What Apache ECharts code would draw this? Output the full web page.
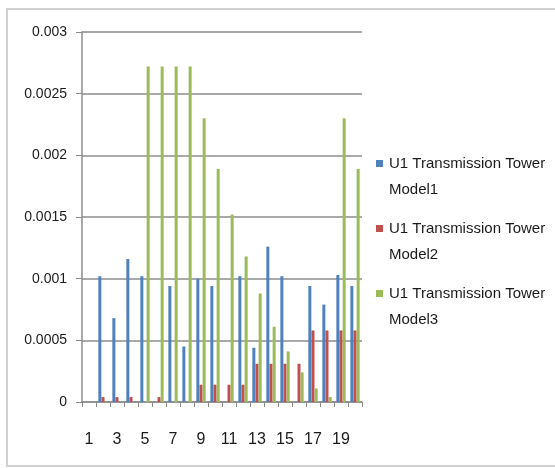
<!DOCTYPE html>
<html>
<head>
<meta charset="utf-8">
<script src="https://cdn.jsdelivr.net/npm/echarts@6/dist/echarts.min.js"></script>
<style>
  html, body { margin: 0; padding: 0; background: #fff; }
  #chart { width: 555px; height: 468px; }
</style>
</head>
<body>
<div id="chart"></div>
<script>
// Tower positions along the line
const categories = ['1','2','3','4','5','6','7','8','9','10','11','12','13','14','15','16','17','18','19','20'];

const seriesNames = [
  'U1 Transmission Tower Model1',
  'U1 Transmission Tower Model2',
  'U1 Transmission Tower Model3'
];

const model1 = [0, 0.00102, 0.00068, 0.00116, 0.00102, 0, 0.00094, 0.00045, 0.00100, 0.00094,
                0, 0.00102, 0.00044, 0.00126, 0.00102, 0, 0.00094, 0.00079, 0.00103, 0.00094];
const model2 = [0, 0.00004, 0.00004, 0.00004, 0, 0.00004, 0, 0, 0.00014, 0.00014,
                0.00014, 0.00014, 0.00031, 0.00031, 0.00031, 0.00031, 0.00058, 0.00058, 0.00058, 0.00058];
const model3 = [0, 0, 0, 0, 0.00272, 0.00272, 0.00272, 0.00272, 0.00230, 0.00189,
                0.00152, 0.00118, 0.00088, 0.00061, 0.00041, 0.00024, 0.00011, 0.00004, 0.00230, 0.00189];

const yTicks = [0, 0.0005, 0.001, 0.0015, 0.002, 0.0025, 0.003];

const colors = ['#4F81BD', '#C0504D', '#9BBB59'];
const textColor = '#1a1a1a';
const font = '"Liberation Sans", Arial, sans-serif';

const chart = echarts.init(document.getElementById('chart'), null, { renderer: 'canvas' });

const values = [model1, model2, model3];

// legend label: coloured square on the first line, second line indented
const rich = { t: { fontSize: 15, lineHeight: 26, color: textColor, fontFamily: font }, sp: { width: 13 } };
colors.forEach((c, i) => {
  rich['m' + i] = { width: 7, height: 7, backgroundColor: c, align: 'left' };
  rich['g' + i] = { width: 6 };
});

chart.setOption({
  backgroundColor: '#ffffff',
  animation: false,
  color: colors,
  graphic: [{
    type: 'rect',
    shape: { x: 7, y: 9, width: 600, height: 457 },
    style: { fill: 'none', stroke: '#d0d0d0', lineWidth: 2 },
    silent: true
  }],
  grid: { left: 82, right: 193, top: 32, bottom: 66, containLabel: false },
  legend: {
    orient: 'vertical',
    left: 371,
    top: 156,
    padding: 0,
    icon: 'none',
    itemWidth: 0,
    itemHeight: 7,
    itemGap: 24,
    data: seriesNames,
    formatter: function (name) {
      const i = seriesNames.indexOf(name);
      const head = 'U1 Transmission Tower';
      const tail = name.slice(head.length + 1);
      return '{m' + i + '|}{g' + i + '|}{t|' + head + '}\n{sp|}{t|' + tail + '}';
    },
    textStyle: { rich: rich }
  },
  xAxis: {
    type: 'category',
    data: categories,
    boundaryGap: true,
    axisLine: { show: true, lineStyle: { color: '#8c8c8c', width: 1.5 } },
    axisTick: { show: true, interval: 0, length: 5, lineStyle: { color: '#8c8c8c' } },
    axisLabel: {
      interval: 1,
      margin: 30,
      color: textColor,
      fontSize: 16,
      fontFamily: font
    },
    splitLine: { show: false }
  },
  yAxis: {
    type: 'value',
    min: yTicks[0],
    max: yTicks[yTicks.length - 1],
    interval: 0.0005,
    axisLine: { show: true, lineStyle: { color: '#8c8c8c', width: 1.5 } },
    axisTick: { show: true, length: 6, lineStyle: { color: '#8c8c8c' } },
    axisLabel: {
      margin: 15,
      color: textColor,
      fontSize: 14,
      fontFamily: font,
      formatter: v => String(+v.toFixed(4))
    },
    splitLine: { show: true, lineStyle: { color: '#8c8c8c', width: 1.5 } }
  },
  series: seriesNames.map((n, i) => ({
    name: n,
    type: 'bar',
    data: values[i],
    barWidth: 3,
    barGap: '5%',
    itemStyle: { color: colors[i] }
  }))
});
</script>
</body>
</html>
